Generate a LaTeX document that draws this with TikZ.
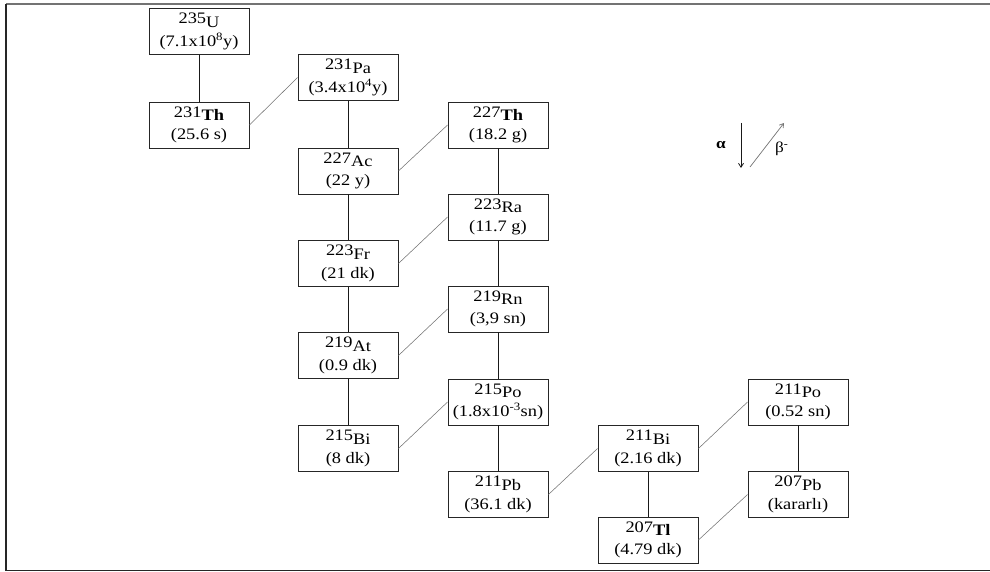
\documentclass[tikz,border=0pt]{standalone}
\usepackage{fontspec}
\setmainfont[FakeStretch=1.15]{Liberation Serif}
\usetikzlibrary{arrows.meta}
\newcommand\massno[1]{\raisebox{3.5pt}{#1}}
\begin{document}
\begin{tikzpicture}[x=1pt,y=-1pt,
  nuc/.style={draw=black!85,line width=0.9pt,minimum width=100pt,minimum height=46pt,
    inner sep=0pt,align=center,font=\fontsize{16}{19}\selectfont},
  adecay/.style={draw=black!90,line width=0.9pt},
  bdecay/.style={draw=black!55,line width=0.55pt},
  framel/.style={line width=2pt}]
\useasboundingbox (0,0) rectangle (990,572);
% frame
\coordinate (ftl) at (6,4);
\coordinate (ftr) at (990,4);
\coordinate (fbl) at (6,570.5);
\coordinate (fbr) at (990,570.5);
\draw[framel,black!55] (ftl) -- (ftr);
\draw[framel,black!85] (ftl) -- (fbl);
\draw[line width=1.5pt,black!85] (fbl) -- (fbr);
% nuclides
\node[nuc] (U235)  at (199,31.5) {\massno{235}U\\(7.1x10\textsuperscript{8}y)};
\node[nuc] (Th231) at (199,125)  {\massno{231}\textbf{Th}\\(25.6 s)};
\node[nuc] (Pa231) at (348,77.5) {\massno{231}Pa\\(3.4x10\textsuperscript{4}y)};
\node[nuc] (Ac227) at (348,171)  {\massno{227}Ac\\(22 y)};
\node[nuc] (Th227) at (498,125)  {\massno{227}\textbf{Th}\\(18.2 g)};
\node[nuc] (Ra223) at (498,217)  {\massno{223}Ra\\(11.7 g)};
\node[nuc] (Fr223) at (348,263.5){\massno{223}Fr\\(21 dk)};
\node[nuc] (Rn219) at (498,309)  {\massno{219}Rn\\(3,9 sn)};
\node[nuc] (At219) at (348,355.5){\massno{219}At\\(0.9 dk)};
\node[nuc] (Po215) at (498,402)  {\massno{215}Po\\(1.8x10\textsuperscript{-3}sn)};
\node[nuc] (Bi215) at (348,448.5){\massno{215}Bi\\(8 dk)};
\node[nuc] (Pb211) at (498,494.5){\massno{211}Pb\\(36.1 dk)};
\node[nuc] (Bi211) at (648,448.5){\massno{211}Bi\\(2.16 dk)};
\node[nuc] (Po211) at (798,402)  {\massno{211}Po\\(0.52 sn)};
\node[nuc] (Pb207) at (798,494.5){\massno{207}Pb\\(kararlı)};
\node[nuc] (Tl207) at (648,540)  {\massno{207}\textbf{Tl}\\(4.79 dk)};
% alpha decays
\draw[adecay] (U235) -- (Th231);
\draw[adecay] (Pa231) -- (Ac227);
\draw[adecay] (Ac227) -- (Fr223);
\draw[adecay] (Fr223) -- (At219);
\draw[adecay] (At219) -- (Bi215);
\draw[adecay] (Th227) -- (Ra223);
\draw[adecay] (Ra223) -- (Rn219);
\draw[adecay] (Rn219) -- (Po215);
\draw[adecay] (Po215) -- (Pb211);
\draw[adecay] (Po211) -- (Pb207);
\draw[adecay] (Bi211) -- (Tl207);
% beta decays
\draw[bdecay] (Th231.east) -- (Pa231.west);
\draw[bdecay] (Ac227.east) -- (Th227.west);
\draw[bdecay] (Fr223.east) -- (Ra223.west);
\draw[bdecay] (At219.east) -- (Rn219.west);
\draw[bdecay] (Bi215.east) -- (Po215.west);
\draw[bdecay] (Pb211.east) -- (Bi211.west);
\draw[bdecay] (Bi211.east) -- (Po211.west);
\draw[bdecay] (Tl207.east) -- (Pb207.west);
% legend
\node[font=\bfseries\fontsize{15}{15}\selectfont,inner sep=0pt] (alab) at (721,145) {α};
\coordinate (as) at (741,123);
\coordinate (ae) at (741,168);
\draw[adecay,line width=0.8pt,-{Straight Barb[length=4pt,width=5pt]}] (as) -- (ae);
\coordinate (bs) at (750,167);
\coordinate (be) at (784,123);
\draw[bdecay,line width=0.7pt,-{Straight Barb[length=4pt,width=5pt]}] (bs) -- (be);
\node[font=\fontsize{15}{15}\selectfont,inner sep=0pt,anchor=west] (blab) at (775,149) {β\textsuperscript{-}};
\end{tikzpicture}
\end{document}
